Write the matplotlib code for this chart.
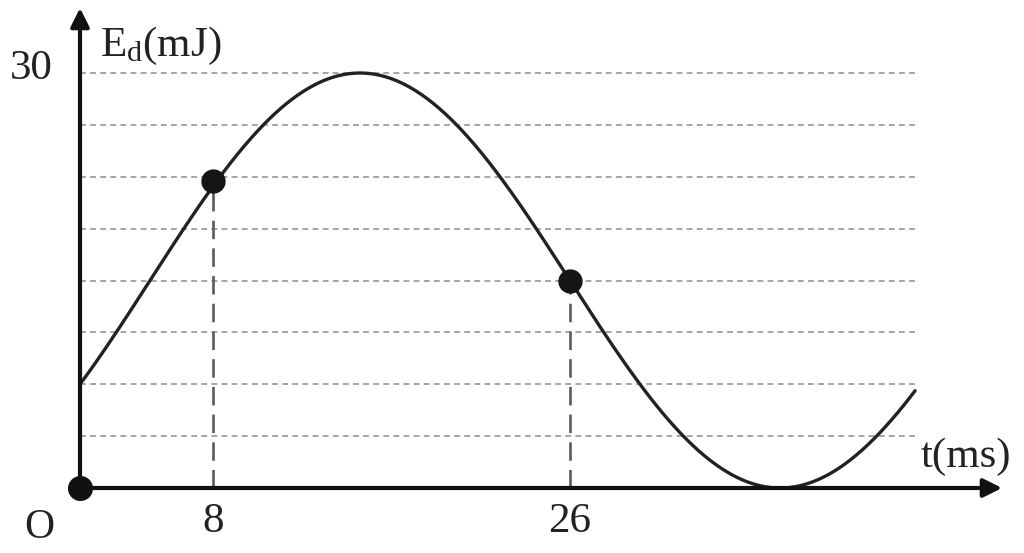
import numpy as np
import matplotlib
matplotlib.use("Agg")
import matplotlib.pyplot as plt

plt.rcParams['font.family'] = ['Liberation Serif', 'DejaVu Serif']
plt.rcParams['mathtext.fontset'] = 'custom'
plt.rcParams['mathtext.rm'] = 'Liberation Serif'
plt.rcParams['mathtext.it'] = 'Liberation Serif:italic'

# --- data ---
E_offset = 15.0         # mJ, middle of the oscillation
E_amp = 15.0            # mJ, so E ranges 0..30
phase0 = -np.pi / 6     # E(0) = 7.5 mJ and rising
period = 44.57          # ms (schematic drawing scale)
t_end = 44.31           # ms, end of drawn curve
grid_levels = [3.75, 7.5, 11.25, 15.0, 18.75, 22.5, 26.25, 30.0]
mark_pos = [7.06, 26.0]          # positions of marked instants on the drawing
mark_labels = ["8", "26"]
mark_E = [22.2, 15.0]
y_tick_value = 30
y_tick_label = "30"

W, H = 1024, 553
fig = plt.figure(figsize=(W / 100, H / 100), dpi=100)
ax = fig.add_axes([0, 0, 1, 1])
px_per_ms = 490 / 26.0
px_per_mJ = (488 - 73) / 30.0
ax.set_xlim(-80 / px_per_ms, (W - 80) / px_per_ms)
ax.set_ylim(-(H - 488) / px_per_mJ, 488 / px_per_mJ)
ax.axis('off')

# grid lines
x_grid_end = (915 - 80) / px_per_ms
for g in grid_levels:
    ax.plot([0, x_grid_end], [g, g], color='#a5a5a5', lw=1.4,
            linestyle=(0, (3, 2.2)), zorder=1)

# curve
t = np.linspace(0, t_end, 600)
E = E_offset + E_amp * np.sin(2 * np.pi * t / period + phase0)
ax.plot(t, E, color='#222222', lw=2.4, zorder=3, solid_capstyle='round')

# dashed verticals and marked points
for xp, ep in zip(mark_pos, mark_E):
    ax.plot([xp, xp], [0, ep], color='#5a5a5a', lw=1.9,
            linestyle=(0, (7, 3.5)), zorder=2)
    ax.plot([xp], [ep], 'o', color='#151515', ms=16.5, zorder=4)

# axes with arrows
x_tip = (1002 - 80) / px_per_ms
y_tip = (488 - 8) / px_per_mJ
ax.annotate('', xy=(x_tip, 0), xytext=(0, 0),
            arrowprops=dict(arrowstyle='-|>', color='#111111', lw=3,
                            mutation_scale=28, shrinkA=0, shrinkB=0), zorder=5)
ax.annotate('', xy=(0, y_tip), xytext=(0, 0),
            arrowprops=dict(arrowstyle='-|>', color='#111111', lw=3,
                            mutation_scale=28, shrinkA=0, shrinkB=0), zorder=5)
ax.plot([0], [0], 'o', color='#111111', ms=17, zorder=6)

# texts
txt = '#222222'
ax.text(-49 / px_per_ms, (488 - 69) / px_per_mJ, y_tick_label, fontsize=31,
        color=txt, ha='center', va='center')
ax.text(-41 / px_per_ms, -40 / px_per_mJ, 'O', fontsize=30, color=txt,
        ha='center', va='center')
for xp, lab in zip(mark_pos, mark_labels):
    ax.text(xp, -34 / px_per_mJ, lab, fontsize=31, color=txt,
            ha='center', va='center')
ax.text(20 / px_per_ms, (488 - 46) / px_per_mJ, r'$\mathrm{E_d}$(mJ)',
        fontsize=31, color=txt, ha='left', va='center')
ax.text((966 - 80) / px_per_ms, (488 - 457) / px_per_mJ, 't(ms)',
        fontsize=31, color=txt, ha='center', va='center')

fig.savefig('out.png', dpi=100)
